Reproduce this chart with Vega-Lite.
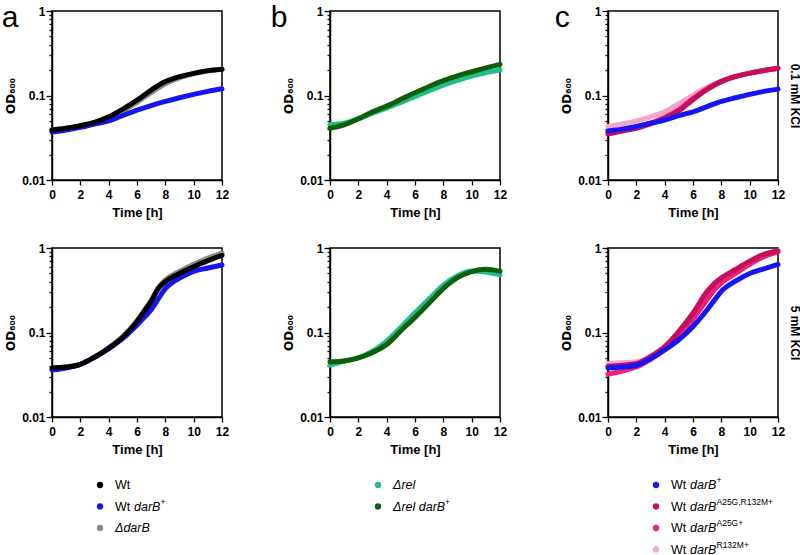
{
  "$schema": "https://vega.github.io/schema/vega-lite/v6.json",
  "padding": {"top": 2, "left": 0, "right": 0, "bottom": 0},
  "background": "white",
  "columns": 3,
  "spacing": {"row": 68, "column": 108},
  "bounds": "flush",
  "align": "all",
  "datasets": {
    "a1": [
      {"strain": "ΔdarB", "time": 0, "od": 0.039}, {"strain": "ΔdarB", "time": 1, "od": 0.041}, {"strain": "ΔdarB", "time": 2, "od": 0.044}, {"strain": "ΔdarB", "time": 3, "od": 0.048}, {"strain": "ΔdarB", "time": 4, "od": 0.055}, {"strain": "ΔdarB", "time": 5, "od": 0.066}, {"strain": "ΔdarB", "time": 6, "od": 0.083}, {"strain": "ΔdarB", "time": 7, "od": 0.108}, {"strain": "ΔdarB", "time": 8, "od": 0.138}, {"strain": "ΔdarB", "time": 9, "od": 0.162}, {"strain": "ΔdarB", "time": 10, "od": 0.180}, {"strain": "ΔdarB", "time": 11, "od": 0.195}, {"strain": "ΔdarB", "time": 12, "od": 0.205},
      {"strain": "Wt darB+", "time": 0, "od": 0.037}, {"strain": "Wt darB+", "time": 1, "od": 0.039}, {"strain": "Wt darB+", "time": 2, "od": 0.042}, {"strain": "Wt darB+", "time": 3, "od": 0.046}, {"strain": "Wt darB+", "time": 4, "od": 0.050}, {"strain": "Wt darB+", "time": 5, "od": 0.058}, {"strain": "Wt darB+", "time": 6, "od": 0.067}, {"strain": "Wt darB+", "time": 7, "od": 0.076}, {"strain": "Wt darB+", "time": 8, "od": 0.085}, {"strain": "Wt darB+", "time": 9, "od": 0.094}, {"strain": "Wt darB+", "time": 10, "od": 0.103}, {"strain": "Wt darB+", "time": 11, "od": 0.112}, {"strain": "Wt darB+", "time": 12, "od": 0.120},
      {"strain": "Wt", "time": 0, "od": 0.039}, {"strain": "Wt", "time": 1, "od": 0.041}, {"strain": "Wt", "time": 2, "od": 0.044}, {"strain": "Wt", "time": 3, "od": 0.048}, {"strain": "Wt", "time": 4, "od": 0.056}, {"strain": "Wt", "time": 5, "od": 0.069}, {"strain": "Wt", "time": 6, "od": 0.088}, {"strain": "Wt", "time": 7, "od": 0.116}, {"strain": "Wt", "time": 8, "od": 0.146}, {"strain": "Wt", "time": 9, "od": 0.167}, {"strain": "Wt", "time": 10, "od": 0.183}, {"strain": "Wt", "time": 11, "od": 0.197}, {"strain": "Wt", "time": 12, "od": 0.205}
    ],
    "a2": [
      {"strain": "ΔdarB", "time": 0, "od": 0.038}, {"strain": "ΔdarB", "time": 1, "od": 0.039}, {"strain": "ΔdarB", "time": 2, "od": 0.042}, {"strain": "ΔdarB", "time": 3, "od": 0.051}, {"strain": "ΔdarB", "time": 4, "od": 0.066}, {"strain": "ΔdarB", "time": 5, "od": 0.090}, {"strain": "ΔdarB", "time": 6, "od": 0.138}, {"strain": "ΔdarB", "time": 6.5, "od": 0.18}, {"strain": "ΔdarB", "time": 7, "od": 0.24}, {"strain": "ΔdarB", "time": 7.5, "od": 0.34}, {"strain": "ΔdarB", "time": 8, "od": 0.42}, {"strain": "ΔdarB", "time": 9, "od": 0.53}, {"strain": "ΔdarB", "time": 10, "od": 0.64}, {"strain": "ΔdarB", "time": 11, "od": 0.76}, {"strain": "ΔdarB", "time": 12, "od": 0.87},
      {"strain": "Wt darB+", "time": 0, "od": 0.036}, {"strain": "Wt darB+", "time": 1, "od": 0.038}, {"strain": "Wt darB+", "time": 2, "od": 0.042}, {"strain": "Wt darB+", "time": 3, "od": 0.051}, {"strain": "Wt darB+", "time": 4, "od": 0.064}, {"strain": "Wt darB+", "time": 5, "od": 0.085}, {"strain": "Wt darB+", "time": 6, "od": 0.123}, {"strain": "Wt darB+", "time": 6.5, "od": 0.15}, {"strain": "Wt darB+", "time": 7, "od": 0.186}, {"strain": "Wt darB+", "time": 7.5, "od": 0.25}, {"strain": "Wt darB+", "time": 8, "od": 0.33}, {"strain": "Wt darB+", "time": 8.5, "od": 0.39}, {"strain": "Wt darB+", "time": 9, "od": 0.44}, {"strain": "Wt darB+", "time": 10, "od": 0.53}, {"strain": "Wt darB+", "time": 11, "od": 0.58}, {"strain": "Wt darB+", "time": 12, "od": 0.63},
      {"strain": "Wt", "time": 0, "od": 0.038}, {"strain": "Wt", "time": 1, "od": 0.039}, {"strain": "Wt", "time": 2, "od": 0.042}, {"strain": "Wt", "time": 3, "od": 0.051}, {"strain": "Wt", "time": 4, "od": 0.065}, {"strain": "Wt", "time": 5, "od": 0.088}, {"strain": "Wt", "time": 6, "od": 0.135}, {"strain": "Wt", "time": 6.5, "od": 0.178}, {"strain": "Wt", "time": 7, "od": 0.234}, {"strain": "Wt", "time": 7.5, "od": 0.33}, {"strain": "Wt", "time": 8, "od": 0.40}, {"strain": "Wt", "time": 9, "od": 0.50}, {"strain": "Wt", "time": 10, "od": 0.60}, {"strain": "Wt", "time": 11, "od": 0.71}, {"strain": "Wt", "time": 12, "od": 0.82}
    ],
    "b1": [
      {"strain": "Δrel", "time": 0, "od": 0.045}, {"strain": "Δrel", "time": 1, "od": 0.047}, {"strain": "Δrel", "time": 2, "od": 0.053}, {"strain": "Δrel", "time": 3, "od": 0.062}, {"strain": "Δrel", "time": 4, "od": 0.071}, {"strain": "Δrel", "time": 5, "od": 0.083}, {"strain": "Δrel", "time": 6, "od": 0.097}, {"strain": "Δrel", "time": 7, "od": 0.114}, {"strain": "Δrel", "time": 8, "od": 0.133}, {"strain": "Δrel", "time": 9, "od": 0.151}, {"strain": "Δrel", "time": 10, "od": 0.170}, {"strain": "Δrel", "time": 11, "od": 0.186}, {"strain": "Δrel", "time": 12, "od": 0.200},
      {"strain": "Δrel darB+", "time": 0, "od": 0.041}, {"strain": "Δrel darB+", "time": 1, "od": 0.045}, {"strain": "Δrel darB+", "time": 2, "od": 0.053}, {"strain": "Δrel darB+", "time": 3, "od": 0.064}, {"strain": "Δrel darB+", "time": 4, "od": 0.075}, {"strain": "Δrel darB+", "time": 5, "od": 0.090}, {"strain": "Δrel darB+", "time": 6, "od": 0.108}, {"strain": "Δrel darB+", "time": 7, "od": 0.128}, {"strain": "Δrel darB+", "time": 8, "od": 0.150}, {"strain": "Δrel darB+", "time": 9, "od": 0.171}, {"strain": "Δrel darB+", "time": 10, "od": 0.191}, {"strain": "Δrel darB+", "time": 11, "od": 0.212}, {"strain": "Δrel darB+", "time": 12, "od": 0.234}
    ],
    "b2": [
      {"strain": "Δrel", "time": 0, "od": 0.041}, {"strain": "Δrel", "time": 1, "od": 0.046}, {"strain": "Δrel", "time": 2, "od": 0.050}, {"strain": "Δrel", "time": 3, "od": 0.060}, {"strain": "Δrel", "time": 4, "od": 0.079}, {"strain": "Δrel", "time": 5, "od": 0.115}, {"strain": "Δrel", "time": 6, "od": 0.171}, {"strain": "Δrel", "time": 7, "od": 0.25}, {"strain": "Δrel", "time": 8, "od": 0.363}, {"strain": "Δrel", "time": 9, "od": 0.47}, {"strain": "Δrel", "time": 10, "od": 0.535}, {"strain": "Δrel", "time": 11, "od": 0.52}, {"strain": "Δrel", "time": 12, "od": 0.48},
      {"strain": "Δrel darB+", "time": 0, "od": 0.045}, {"strain": "Δrel darB+", "time": 1, "od": 0.046}, {"strain": "Δrel darB+", "time": 2, "od": 0.050}, {"strain": "Δrel darB+", "time": 3, "od": 0.058}, {"strain": "Δrel darB+", "time": 4, "od": 0.072}, {"strain": "Δrel darB+", "time": 5, "od": 0.105}, {"strain": "Δrel darB+", "time": 6, "od": 0.151}, {"strain": "Δrel darB+", "time": 7, "od": 0.223}, {"strain": "Δrel darB+", "time": 8, "od": 0.331}, {"strain": "Δrel darB+", "time": 9, "od": 0.445}, {"strain": "Δrel darB+", "time": 10, "od": 0.525}, {"strain": "Δrel darB+", "time": 11, "od": 0.56}, {"strain": "Δrel darB+", "time": 12, "od": 0.53}
    ],
    "c1": [
      {"strain": "Wt darB R132M+", "time": 0, "od": 0.043}, {"strain": "Wt darB R132M+", "time": 1, "od": 0.046}, {"strain": "Wt darB R132M+", "time": 2, "od": 0.050}, {"strain": "Wt darB R132M+", "time": 3, "od": 0.056}, {"strain": "Wt darB R132M+", "time": 4, "od": 0.064}, {"strain": "Wt darB R132M+", "time": 5, "od": 0.080}, {"strain": "Wt darB R132M+", "time": 6, "od": 0.101}, {"strain": "Wt darB R132M+", "time": 7, "od": 0.125}, {"strain": "Wt darB R132M+", "time": 8, "od": 0.148}, {"strain": "Wt darB R132M+", "time": 9, "od": 0.168}, {"strain": "Wt darB R132M+", "time": 10, "od": 0.184}, {"strain": "Wt darB R132M+", "time": 11, "od": 0.198}, {"strain": "Wt darB R132M+", "time": 12, "od": 0.21},
      {"strain": "Wt darB A25G+", "time": 0, "od": 0.036}, {"strain": "Wt darB A25G+", "time": 1, "od": 0.039}, {"strain": "Wt darB A25G+", "time": 2, "od": 0.042}, {"strain": "Wt darB A25G+", "time": 3, "od": 0.047}, {"strain": "Wt darB A25G+", "time": 4, "od": 0.055}, {"strain": "Wt darB A25G+", "time": 5, "od": 0.068}, {"strain": "Wt darB A25G+", "time": 6, "od": 0.092}, {"strain": "Wt darB A25G+", "time": 7, "od": 0.12}, {"strain": "Wt darB A25G+", "time": 8, "od": 0.147}, {"strain": "Wt darB A25G+", "time": 9, "od": 0.168}, {"strain": "Wt darB A25G+", "time": 10, "od": 0.184}, {"strain": "Wt darB A25G+", "time": 11, "od": 0.198}, {"strain": "Wt darB A25G+", "time": 12, "od": 0.21},
      {"strain": "Wt darB A25G,R132M+", "time": 0, "od": 0.035}, {"strain": "Wt darB A25G,R132M+", "time": 1, "od": 0.038}, {"strain": "Wt darB A25G,R132M+", "time": 2, "od": 0.041}, {"strain": "Wt darB A25G,R132M+", "time": 3, "od": 0.046}, {"strain": "Wt darB A25G,R132M+", "time": 4, "od": 0.054}, {"strain": "Wt darB A25G,R132M+", "time": 5, "od": 0.066}, {"strain": "Wt darB A25G,R132M+", "time": 6, "od": 0.089}, {"strain": "Wt darB A25G,R132M+", "time": 7, "od": 0.118}, {"strain": "Wt darB A25G,R132M+", "time": 8, "od": 0.146}, {"strain": "Wt darB A25G,R132M+", "time": 9, "od": 0.167}, {"strain": "Wt darB A25G,R132M+", "time": 10, "od": 0.183}, {"strain": "Wt darB A25G,R132M+", "time": 11, "od": 0.198}, {"strain": "Wt darB A25G,R132M+", "time": 12, "od": 0.21},
      {"strain": "Wt darB+", "time": 0, "od": 0.038}, {"strain": "Wt darB+", "time": 1, "od": 0.040}, {"strain": "Wt darB+", "time": 2, "od": 0.043}, {"strain": "Wt darB+", "time": 3, "od": 0.047}, {"strain": "Wt darB+", "time": 4, "od": 0.051}, {"strain": "Wt darB+", "time": 5, "od": 0.058}, {"strain": "Wt darB+", "time": 6, "od": 0.064}, {"strain": "Wt darB+", "time": 7, "od": 0.074}, {"strain": "Wt darB+", "time": 8, "od": 0.085}, {"strain": "Wt darB+", "time": 9, "od": 0.094}, {"strain": "Wt darB+", "time": 10, "od": 0.103}, {"strain": "Wt darB+", "time": 11, "od": 0.112}, {"strain": "Wt darB+", "time": 12, "od": 0.119}
    ],
    "c2": [
      {"strain": "Wt darB R132M+", "time": 0, "od": 0.043}, {"strain": "Wt darB R132M+", "time": 1, "od": 0.044}, {"strain": "Wt darB R132M+", "time": 2, "od": 0.045}, {"strain": "Wt darB R132M+", "time": 3, "od": 0.051}, {"strain": "Wt darB R132M+", "time": 4, "od": 0.065}, {"strain": "Wt darB R132M+", "time": 5, "od": 0.094}, {"strain": "Wt darB R132M+", "time": 6, "od": 0.148}, {"strain": "Wt darB R132M+", "time": 7, "od": 0.25}, {"strain": "Wt darB R132M+", "time": 7.5, "od": 0.32}, {"strain": "Wt darB R132M+", "time": 8, "od": 0.39}, {"strain": "Wt darB R132M+", "time": 9, "od": 0.51}, {"strain": "Wt darB R132M+", "time": 10, "od": 0.66}, {"strain": "Wt darB R132M+", "time": 11, "od": 0.80}, {"strain": "Wt darB R132M+", "time": 12, "od": 0.92},
      {"strain": "Wt darB A25G+", "time": 0, "od": 0.032}, {"strain": "Wt darB A25G+", "time": 1, "od": 0.035}, {"strain": "Wt darB A25G+", "time": 2, "od": 0.039}, {"strain": "Wt darB A25G+", "time": 3, "od": 0.048}, {"strain": "Wt darB A25G+", "time": 4, "od": 0.063}, {"strain": "Wt darB A25G+", "time": 5, "od": 0.091}, {"strain": "Wt darB A25G+", "time": 6, "od": 0.144}, {"strain": "Wt darB A25G+", "time": 7, "od": 0.245}, {"strain": "Wt darB A25G+", "time": 7.5, "od": 0.32}, {"strain": "Wt darB A25G+", "time": 8, "od": 0.386}, {"strain": "Wt darB A25G+", "time": 9, "od": 0.50}, {"strain": "Wt darB A25G+", "time": 10, "od": 0.64}, {"strain": "Wt darB A25G+", "time": 11, "od": 0.79}, {"strain": "Wt darB A25G+", "time": 12, "od": 0.90},
      {"strain": "Wt darB A25G,R132M+", "time": 0, "od": 0.040}, {"strain": "Wt darB A25G,R132M+", "time": 1, "od": 0.041}, {"strain": "Wt darB A25G,R132M+", "time": 2, "od": 0.043}, {"strain": "Wt darB A25G,R132M+", "time": 3, "od": 0.052}, {"strain": "Wt darB A25G,R132M+", "time": 4, "od": 0.068}, {"strain": "Wt darB A25G,R132M+", "time": 5, "od": 0.103}, {"strain": "Wt darB A25G,R132M+", "time": 6, "od": 0.17}, {"strain": "Wt darB A25G,R132M+", "time": 7, "od": 0.307}, {"strain": "Wt darB A25G,R132M+", "time": 7.5, "od": 0.38}, {"strain": "Wt darB A25G,R132M+", "time": 8, "od": 0.443}, {"strain": "Wt darB A25G,R132M+", "time": 9, "od": 0.557}, {"strain": "Wt darB A25G,R132M+", "time": 10, "od": 0.70}, {"strain": "Wt darB A25G,R132M+", "time": 11, "od": 0.84}, {"strain": "Wt darB A25G,R132M+", "time": 12, "od": 0.92},
      {"strain": "Wt darB+", "time": 0, "od": 0.038}, {"strain": "Wt darB+", "time": 1, "od": 0.039}, {"strain": "Wt darB+", "time": 2, "od": 0.041}, {"strain": "Wt darB+", "time": 3, "od": 0.049}, {"strain": "Wt darB+", "time": 4, "od": 0.062}, {"strain": "Wt darB+", "time": 5, "od": 0.082}, {"strain": "Wt darB+", "time": 6, "od": 0.118}, {"strain": "Wt darB+", "time": 7, "od": 0.186}, {"strain": "Wt darB+", "time": 7.5, "od": 0.24}, {"strain": "Wt darB+", "time": 8, "od": 0.307}, {"strain": "Wt darB+", "time": 9, "od": 0.405}, {"strain": "Wt darB+", "time": 10, "od": 0.50}, {"strain": "Wt darB+", "time": 11, "od": 0.567}, {"strain": "Wt darB+", "time": 12, "od": 0.64}
    ],
    "legend": [
      {"col": "a", "order": 1, "strain": "Wt", "pre": "Wt", "it": "", "sup": ""},
      {"col": "a", "order": 2, "strain": "Wt darB+", "pre": "Wt", "it": "darB", "sup": "+"},
      {"col": "a", "order": 3, "strain": "ΔdarB", "pre": "", "it": "ΔdarB", "sup": ""},
      {"col": "b", "order": 1, "strain": "Δrel", "pre": "", "it": "Δrel", "sup": ""},
      {"col": "b", "order": 2, "strain": "Δrel darB+", "pre": "", "it": "Δrel darB", "sup": "+"},
      {"col": "c", "order": 1, "strain": "Wt darB+", "pre": "Wt", "it": "darB", "sup": "+"},
      {"col": "c", "order": 2, "strain": "Wt darB A25G,R132M+", "pre": "Wt", "it": "darB", "sup": "A25G,R132M+"},
      {"col": "c", "order": 3, "strain": "Wt darB A25G+", "pre": "Wt", "it": "darB", "sup": "A25G+"},
      {"col": "c", "order": 4, "strain": "Wt darB R132M+", "pre": "Wt", "it": "darB", "sup": "R132M+"}
    ]
  },
  "concat": [
    {
      "data": {"name": "a1"}, "width": 170, "height": 169,
      "title": {"text": "a", "orient": "top", "anchor": "start", "frame": "bounds", "fontSize": 30, "fontWeight": "normal", "baseline": "alphabetic", "offset": -52, "dx": -3},
      "mark": {"type": "line", "strokeWidth": 5, "strokeCap": "round", "interpolate": "monotone"},
      "encoding": {
        "x": {"field": "time", "type": "quantitative", "scale": {"domain": [0, 12], "nice": false}, "axis": {"values": [0, 2, 4, 6, 8, 10, 12], "title": "Time [h]", "tickSize": 5, "labelPadding": 4, "titlePadding": 6}},
        "y": {"field": "od", "type": "quantitative", "scale": {"type": "log", "domain": [0.01, 1], "nice": false}, "axis": {"title": "OD₆₀₀", "titleFont": "DejaVu Sans", "titleFontSize": 12, "values": [0.01, 0.02, 0.03, 0.04, 0.05, 0.06, 0.07, 0.08, 0.09, 0.1, 0.2, 0.3, 0.4, 0.5, 0.6, 0.7, 0.8, 0.9, 1], "format": "~g", "labelExpr": "datum.value == 0.01 || datum.value == 0.1 || datum.value == 1 ? datum.label : ''", "tickSize": {"condition": {"test": "datum.value == 0.01 || datum.value == 0.1 || datum.value == 1", "value": 6}, "value": 3}, "labelPadding": 1, "titlePadding": 4}},
        "color": {"field": "strain", "type": "nominal", "legend": null, "scale": {"domain": ["Wt", "Wt darB+", "ΔdarB", "Δrel", "Δrel darB+", "Wt darB A25G,R132M+", "Wt darB A25G+", "Wt darB R132M+"], "range": ["#000000", "#1414f5", "#8c8c8c", "#1fbf8c", "#0b5e0b", "#c4105c", "#f01e7c", "#f5a5ca"]}}
      }
    },
    {
      "data": {"name": "b1"}, "width": 170, "height": 169,
      "title": {"text": "b", "orient": "top", "anchor": "start", "frame": "bounds", "fontSize": 30, "fontWeight": "normal", "baseline": "alphabetic", "offset": -52, "dx": -12},
      "mark": {"type": "line", "strokeWidth": 5, "strokeCap": "round", "interpolate": "monotone"},
      "encoding": {
        "x": {"field": "time", "type": "quantitative", "scale": {"domain": [0, 12], "nice": false}, "axis": {"values": [0, 2, 4, 6, 8, 10, 12], "title": "Time [h]", "tickSize": 5, "labelPadding": 4, "titlePadding": 6}},
        "y": {"field": "od", "type": "quantitative", "scale": {"type": "log", "domain": [0.01, 1], "nice": false}, "axis": {"title": "OD₆₀₀", "titleFont": "DejaVu Sans", "titleFontSize": 12, "values": [0.01, 0.02, 0.03, 0.04, 0.05, 0.06, 0.07, 0.08, 0.09, 0.1, 0.2, 0.3, 0.4, 0.5, 0.6, 0.7, 0.8, 0.9, 1], "format": "~g", "labelExpr": "datum.value == 0.01 || datum.value == 0.1 || datum.value == 1 ? datum.label : ''", "tickSize": {"condition": {"test": "datum.value == 0.01 || datum.value == 0.1 || datum.value == 1", "value": 6}, "value": 3}, "labelPadding": 1, "titlePadding": 4}},
        "color": {"field": "strain", "type": "nominal", "legend": null, "scale": {"domain": ["Wt", "Wt darB+", "ΔdarB", "Δrel", "Δrel darB+", "Wt darB A25G,R132M+", "Wt darB A25G+", "Wt darB R132M+"], "range": ["#000000", "#1414f5", "#8c8c8c", "#1fbf8c", "#0b5e0b", "#c4105c", "#f01e7c", "#f5a5ca"]}}
      }
    },
    {
      "data": {"name": "c1"}, "width": 170, "height": 169,
      "title": {"text": "c", "orient": "top", "anchor": "start", "frame": "bounds", "fontSize": 30, "fontWeight": "normal", "baseline": "alphabetic", "offset": -52, "dx": -6},
      "resolve": {"axis": {"y": "independent"}},
      "layer": [
        {
          "transform": [{"filter": "datum.strain != 'Wt darB+'"}],
          "mark": {"type": "line", "strokeWidth": 5, "strokeCap": "round", "interpolate": "monotone"},
          "encoding": {
            "x": {"field": "time", "type": "quantitative", "scale": {"domain": [0, 12], "nice": false}, "axis": {"values": [0, 2, 4, 6, 8, 10, 12], "title": "Time [h]", "tickSize": 5, "labelPadding": 4, "titlePadding": 6}},
            "y": {"field": "od", "type": "quantitative", "scale": {"type": "log", "domain": [0.01, 1], "nice": false}, "axis": {"title": "OD₆₀₀", "titleFont": "DejaVu Sans", "titleFontSize": 12, "values": [0.01, 0.02, 0.03, 0.04, 0.05, 0.06, 0.07, 0.08, 0.09, 0.1, 0.2, 0.3, 0.4, 0.5, 0.6, 0.7, 0.8, 0.9, 1], "format": "~g", "labelExpr": "datum.value == 0.01 || datum.value == 0.1 || datum.value == 1 ? datum.label : ''", "tickSize": {"condition": {"test": "datum.value == 0.01 || datum.value == 0.1 || datum.value == 1", "value": 6}, "value": 3}, "labelPadding": 1, "titlePadding": 4}},
            "color": {"field": "strain", "type": "nominal", "legend": null, "scale": {"domain": ["Wt", "Wt darB+", "ΔdarB", "Δrel", "Δrel darB+", "Wt darB A25G,R132M+", "Wt darB A25G+", "Wt darB R132M+"], "range": ["#000000", "#1414f5", "#8c8c8c", "#1fbf8c", "#0b5e0b", "#c4105c", "#f01e7c", "#f5a5ca"]}}
          }
        },
        {
          "transform": [{"filter": "datum.strain == 'Wt darB+'"}],
          "mark": {"type": "line", "strokeWidth": 5, "strokeCap": "round", "interpolate": "monotone"},
          "encoding": {
            "x": {"field": "time", "type": "quantitative", "scale": {"domain": [0, 12], "nice": false}, "axis": {"values": [0, 2, 4, 6, 8, 10, 12], "title": "Time [h]", "tickSize": 5, "labelPadding": 4, "titlePadding": 6}},
            "y": {"field": "od", "type": "quantitative", "scale": {"type": "log", "domain": [0.01, 1], "nice": false}, "axis": {"orient": "right", "title": "0.1 mM KCl", "labels": false, "ticks": false, "domain": false, "titlePadding": 9, "titleFontSize": 12}},
            "color": {"field": "strain", "type": "nominal", "legend": null, "scale": {"domain": ["Wt", "Wt darB+", "ΔdarB", "Δrel", "Δrel darB+", "Wt darB A25G,R132M+", "Wt darB A25G+", "Wt darB R132M+"], "range": ["#000000", "#1414f5", "#8c8c8c", "#1fbf8c", "#0b5e0b", "#c4105c", "#f01e7c", "#f5a5ca"]}}
          }
        }
      ]
    },
    {
      "data": {"name": "a2"}, "width": 170, "height": 169,
      "mark": {"type": "line", "strokeWidth": 5, "strokeCap": "round", "interpolate": "monotone"},
      "encoding": {
        "x": {"field": "time", "type": "quantitative", "scale": {"domain": [0, 12], "nice": false}, "axis": {"values": [0, 2, 4, 6, 8, 10, 12], "title": "Time [h]", "tickSize": 5, "labelPadding": 4, "titlePadding": 6}},
        "y": {"field": "od", "type": "quantitative", "scale": {"type": "log", "domain": [0.01, 1], "nice": false}, "axis": {"title": "OD₆₀₀", "titleFont": "DejaVu Sans", "titleFontSize": 12, "values": [0.01, 0.02, 0.03, 0.04, 0.05, 0.06, 0.07, 0.08, 0.09, 0.1, 0.2, 0.3, 0.4, 0.5, 0.6, 0.7, 0.8, 0.9, 1], "format": "~g", "labelExpr": "datum.value == 0.01 || datum.value == 0.1 || datum.value == 1 ? datum.label : ''", "tickSize": {"condition": {"test": "datum.value == 0.01 || datum.value == 0.1 || datum.value == 1", "value": 6}, "value": 3}, "labelPadding": 1, "titlePadding": 4}},
        "color": {"field": "strain", "type": "nominal", "legend": null, "scale": {"domain": ["Wt", "Wt darB+", "ΔdarB", "Δrel", "Δrel darB+", "Wt darB A25G,R132M+", "Wt darB A25G+", "Wt darB R132M+"], "range": ["#000000", "#1414f5", "#8c8c8c", "#1fbf8c", "#0b5e0b", "#c4105c", "#f01e7c", "#f5a5ca"]}}
      }
    },
    {
      "data": {"name": "b2"}, "width": 170, "height": 169,
      "mark": {"type": "line", "strokeWidth": 5, "strokeCap": "round", "interpolate": "monotone"},
      "encoding": {
        "x": {"field": "time", "type": "quantitative", "scale": {"domain": [0, 12], "nice": false}, "axis": {"values": [0, 2, 4, 6, 8, 10, 12], "title": "Time [h]", "tickSize": 5, "labelPadding": 4, "titlePadding": 6}},
        "y": {"field": "od", "type": "quantitative", "scale": {"type": "log", "domain": [0.01, 1], "nice": false}, "axis": {"title": "OD₆₀₀", "titleFont": "DejaVu Sans", "titleFontSize": 12, "values": [0.01, 0.02, 0.03, 0.04, 0.05, 0.06, 0.07, 0.08, 0.09, 0.1, 0.2, 0.3, 0.4, 0.5, 0.6, 0.7, 0.8, 0.9, 1], "format": "~g", "labelExpr": "datum.value == 0.01 || datum.value == 0.1 || datum.value == 1 ? datum.label : ''", "tickSize": {"condition": {"test": "datum.value == 0.01 || datum.value == 0.1 || datum.value == 1", "value": 6}, "value": 3}, "labelPadding": 1, "titlePadding": 4}},
        "color": {"field": "strain", "type": "nominal", "legend": null, "scale": {"domain": ["Wt", "Wt darB+", "ΔdarB", "Δrel", "Δrel darB+", "Wt darB A25G,R132M+", "Wt darB A25G+", "Wt darB R132M+"], "range": ["#000000", "#1414f5", "#8c8c8c", "#1fbf8c", "#0b5e0b", "#c4105c", "#f01e7c", "#f5a5ca"]}}
      }
    },
    {
      "data": {"name": "c2"}, "width": 170, "height": 169,
      "resolve": {"axis": {"y": "independent"}},
      "layer": [
        {
          "transform": [{"filter": "datum.strain != 'Wt darB+'"}],
          "mark": {"type": "line", "strokeWidth": 5, "strokeCap": "round", "interpolate": "monotone"},
          "encoding": {
            "x": {"field": "time", "type": "quantitative", "scale": {"domain": [0, 12], "nice": false}, "axis": {"values": [0, 2, 4, 6, 8, 10, 12], "title": "Time [h]", "tickSize": 5, "labelPadding": 4, "titlePadding": 6}},
            "y": {"field": "od", "type": "quantitative", "scale": {"type": "log", "domain": [0.01, 1], "nice": false}, "axis": {"title": "OD₆₀₀", "titleFont": "DejaVu Sans", "titleFontSize": 12, "values": [0.01, 0.02, 0.03, 0.04, 0.05, 0.06, 0.07, 0.08, 0.09, 0.1, 0.2, 0.3, 0.4, 0.5, 0.6, 0.7, 0.8, 0.9, 1], "format": "~g", "labelExpr": "datum.value == 0.01 || datum.value == 0.1 || datum.value == 1 ? datum.label : ''", "tickSize": {"condition": {"test": "datum.value == 0.01 || datum.value == 0.1 || datum.value == 1", "value": 6}, "value": 3}, "labelPadding": 1, "titlePadding": 4}},
            "color": {"field": "strain", "type": "nominal", "legend": null, "scale": {"domain": ["Wt", "Wt darB+", "ΔdarB", "Δrel", "Δrel darB+", "Wt darB A25G,R132M+", "Wt darB A25G+", "Wt darB R132M+"], "range": ["#000000", "#1414f5", "#8c8c8c", "#1fbf8c", "#0b5e0b", "#c4105c", "#f01e7c", "#f5a5ca"]}}
          }
        },
        {
          "transform": [{"filter": "datum.strain == 'Wt darB+'"}],
          "mark": {"type": "line", "strokeWidth": 5, "strokeCap": "round", "interpolate": "monotone"},
          "encoding": {
            "x": {"field": "time", "type": "quantitative", "scale": {"domain": [0, 12], "nice": false}, "axis": {"values": [0, 2, 4, 6, 8, 10, 12], "title": "Time [h]", "tickSize": 5, "labelPadding": 4, "titlePadding": 6}},
            "y": {"field": "od", "type": "quantitative", "scale": {"type": "log", "domain": [0.01, 1], "nice": false}, "axis": {"orient": "right", "title": "5 mM KCl", "labels": false, "ticks": false, "domain": false, "titlePadding": 9, "titleFontSize": 12}},
            "color": {"field": "strain", "type": "nominal", "legend": null, "scale": {"domain": ["Wt", "Wt darB+", "ΔdarB", "Δrel", "Δrel darB+", "Wt darB A25G,R132M+", "Wt darB A25G+", "Wt darB R132M+"], "range": ["#000000", "#1414f5", "#8c8c8c", "#1fbf8c", "#0b5e0b", "#c4105c", "#f01e7c", "#f5a5ca"]}}
          }
        }
      ]
    },
    {
      "data": {"name": "legend"}, "width": 96, "height": {"step": 21.5}, "view": {"stroke": null},
      "transform": [{"filter": "datum.col == 'a'"}],
      "encoding": {"y": {"field": "order", "type": "ordinal", "axis": null, "scale": {"padding": 0}}},
      "layer": [
        {"mark": {"type": "point", "filled": true, "size": 40, "opacity": 1}, "encoding": {"color": {"field": "strain", "type": "nominal", "legend": null, "scale": {"domain": ["Wt", "Wt darB+", "ΔdarB", "Δrel", "Δrel darB+", "Wt darB A25G,R132M+", "Wt darB A25G+", "Wt darB R132M+"], "range": ["#000000", "#1414f5", "#8c8c8c", "#1fbf8c", "#0b5e0b", "#c4105c", "#f01e7c", "#f5a5ca"]}}}},
        {"mark": {"type": "text", "align": "left", "dx": 15, "fontSize": 12.5, "color": "#000"}, "encoding": {"text": {"field": "pre"}}},
        {"transform": [{"filter": "datum.pre == 'Wt'"}], "mark": {"type": "text", "align": "left", "dx": 34, "fontSize": 12.5, "fontStyle": "italic", "color": "#000"}, "encoding": {"text": {"field": "it"}}},
        {"transform": [{"filter": "datum.pre == ''"}], "mark": {"type": "text", "align": "left", "dx": 15, "fontSize": 12.5, "fontStyle": "italic", "color": "#000"}, "encoding": {"text": {"field": "it"}}},
        {"transform": [{"filter": "datum.pre == 'Wt'"}], "mark": {"type": "text", "align": "left", "dx": 60.5, "dy": -5, "fontSize": 8.5, "color": "#000"}, "encoding": {"text": {"field": "sup"}}},
        {"transform": [{"filter": "datum.pre == ''"}], "mark": {"type": "text", "align": "left", "dx": 67, "dy": -5, "fontSize": 8.5, "color": "#000"}, "encoding": {"text": {"field": "sup"}}}
      ]
    },
    {
      "data": {"name": "legend"}, "width": 96, "height": {"step": 21.5}, "view": {"stroke": null},
      "transform": [{"filter": "datum.col == 'b'"}],
      "encoding": {"y": {"field": "order", "type": "ordinal", "axis": null, "scale": {"padding": 0}}},
      "layer": [
        {"mark": {"type": "point", "filled": true, "size": 40, "opacity": 1}, "encoding": {"color": {"field": "strain", "type": "nominal", "legend": null, "scale": {"domain": ["Wt", "Wt darB+", "ΔdarB", "Δrel", "Δrel darB+", "Wt darB A25G,R132M+", "Wt darB A25G+", "Wt darB R132M+"], "range": ["#000000", "#1414f5", "#8c8c8c", "#1fbf8c", "#0b5e0b", "#c4105c", "#f01e7c", "#f5a5ca"]}}}},
        {"mark": {"type": "text", "align": "left", "dx": 15, "fontSize": 12.5, "color": "#000"}, "encoding": {"text": {"field": "pre"}}},
        {"transform": [{"filter": "datum.pre == 'Wt'"}], "mark": {"type": "text", "align": "left", "dx": 34, "fontSize": 12.5, "fontStyle": "italic", "color": "#000"}, "encoding": {"text": {"field": "it"}}},
        {"transform": [{"filter": "datum.pre == ''"}], "mark": {"type": "text", "align": "left", "dx": 15, "fontSize": 12.5, "fontStyle": "italic", "color": "#000"}, "encoding": {"text": {"field": "it"}}},
        {"transform": [{"filter": "datum.pre == 'Wt'"}], "mark": {"type": "text", "align": "left", "dx": 60.5, "dy": -5, "fontSize": 8.5, "color": "#000"}, "encoding": {"text": {"field": "sup"}}},
        {"transform": [{"filter": "datum.pre == ''"}], "mark": {"type": "text", "align": "left", "dx": 67, "dy": -5, "fontSize": 8.5, "color": "#000"}, "encoding": {"text": {"field": "sup"}}}
      ]
    },
    {
      "data": {"name": "legend"}, "width": 96, "height": {"step": 21.5}, "view": {"stroke": null},
      "transform": [{"filter": "datum.col == 'c'"}],
      "encoding": {"y": {"field": "order", "type": "ordinal", "axis": null, "scale": {"padding": 0}}},
      "layer": [
        {"mark": {"type": "point", "filled": true, "size": 40, "opacity": 1}, "encoding": {"color": {"field": "strain", "type": "nominal", "legend": null, "scale": {"domain": ["Wt", "Wt darB+", "ΔdarB", "Δrel", "Δrel darB+", "Wt darB A25G,R132M+", "Wt darB A25G+", "Wt darB R132M+"], "range": ["#000000", "#1414f5", "#8c8c8c", "#1fbf8c", "#0b5e0b", "#c4105c", "#f01e7c", "#f5a5ca"]}}}},
        {"mark": {"type": "text", "align": "left", "dx": 15, "fontSize": 12.5, "color": "#000"}, "encoding": {"text": {"field": "pre"}}},
        {"transform": [{"filter": "datum.pre == 'Wt'"}], "mark": {"type": "text", "align": "left", "dx": 34, "fontSize": 12.5, "fontStyle": "italic", "color": "#000"}, "encoding": {"text": {"field": "it"}}},
        {"transform": [{"filter": "datum.pre == ''"}], "mark": {"type": "text", "align": "left", "dx": 15, "fontSize": 12.5, "fontStyle": "italic", "color": "#000"}, "encoding": {"text": {"field": "it"}}},
        {"transform": [{"filter": "datum.pre == 'Wt'"}], "mark": {"type": "text", "align": "left", "dx": 60.5, "dy": -5, "fontSize": 8.5, "color": "#000"}, "encoding": {"text": {"field": "sup"}}},
        {"transform": [{"filter": "datum.pre == ''"}], "mark": {"type": "text", "align": "left", "dx": 67, "dy": -5, "fontSize": 8.5, "color": "#000"}, "encoding": {"text": {"field": "sup"}}}
      ]
    }
  ],
  "config": {
    "font": "Liberation Sans",
    "view": {"stroke": "#000000", "strokeWidth": 1.5},
    "title": {"font": "Liberation Sans", "color": "#000000"},
    "text": {"font": "Liberation Sans"},
    "axis": {"grid": false, "domainColor": "#000000", "domainWidth": 1.5, "tickColor": "#000000", "tickWidth": 1.3, "labelColor": "#000000", "labelFont": "Liberation Sans", "labelFontWeight": "bold", "labelFontSize": 12, "labelFlush": false, "labelOverlap": false, "titleFont": "Liberation Sans", "titleFontWeight": "bold", "titleFontSize": 13, "titleColor": "#000000"}
  }
}
